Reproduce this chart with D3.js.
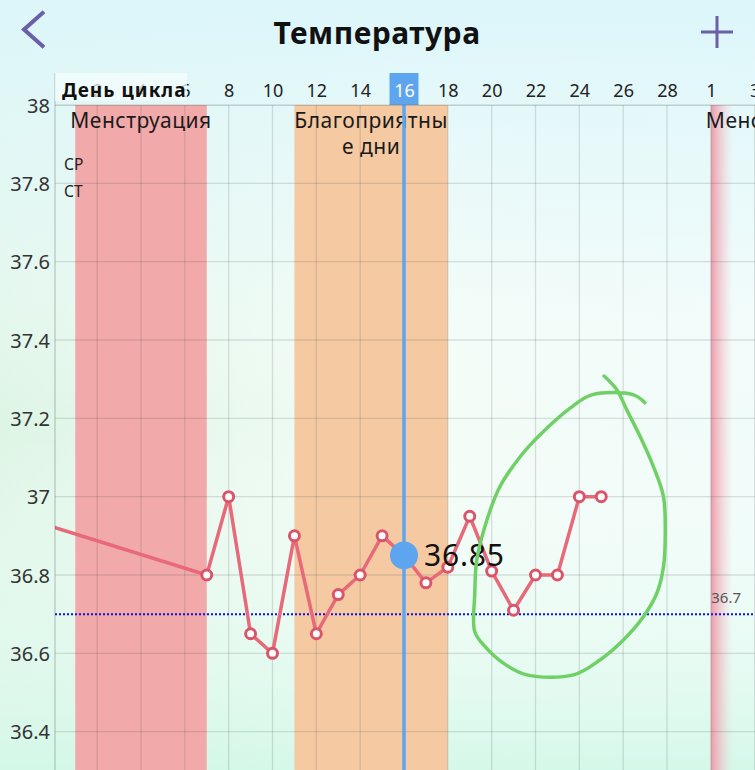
<!DOCTYPE html>
<html>
<head>
<meta charset="utf-8">
<script src="https://cdn.jsdelivr.net/npm/d3@7.9.0/dist/d3.min.js"></script>
<style>
  html, body { margin: 0; padding: 0; background: #eefbf6; }
  svg { display: block; font-family: "Noto Sans", Roboto, sans-serif; }
</style>
</head>
<body>
<svg id="chart" width="755" height="770"></svg>
<script>
// === Data ===
const cycleDays = [7, 8, 9, 10, 11, 12, 13, 14, 15, 16, 17, 18, 19, 20, 21, 22, 23, 24, 25];
const temps = [36.8, 37.0, 36.65, 36.6, 36.9, 36.65, 36.75, 36.8, 36.9, 36.85, 36.78, 36.82, 36.95, 36.81, 36.71, 36.8, 36.8, 37.0, 37.0];
const prevCycleDay = -1;      // last reading of the previous cycle (off-screen)
const prevCycleTemp = 36.94;

const tickDays = [2, 4, 6, 8, 10, 12, 14, 16, 18, 20, 22, 24, 26, 28, 30, 32];
const tickLabels = ['2', '4', '6', '8', '10', '12', '14', '16', '18', '20', '22', '24', '26', '28', '1', '3'];
const tempTicks = [36.2, 36.4, 36.6, 36.8, 37.0, 37.2, 37.4, 37.6, 37.8, 38.0];
const tempLabels = ['36.2', '36.4', '36.6', '36.8', '37', '37.2', '37.4', '37.6', '37.8', '38'];

const phaseNames = ['Менструация', 'Благоприятные дни', 'Менструация'];
const phaseStart = [1, 11, 30];
const phaseEnd = [7, 18, 36];

const selectedDay = 16;
const selectedTemp = 36.85;
const coverline = 36.7;

// hand-drawn green loop around the last readings, [day, temp]
const loopDays = [25.13, 25.71, 26.17, 26.78, 27.38, 27.84, 27.92, 27.84, 27.54, 26.93, 26.01, 24.94, 23.73, 21.6, 20.53, 19.7, 19.23, 19.23, 19.32, 19.78, 20.38, 21.3, 22.21, 23.58, 24.57, 26.47, 26.99];
const loopTemps = [37.308, 37.273, 37.221, 37.153, 37.077, 37.0, 36.907, 36.821, 36.754, 36.694, 36.634, 36.583, 36.545, 36.545, 36.575, 36.617, 36.655, 36.753, 36.838, 36.94, 37.026, 37.102, 37.158, 37.226, 37.26, 37.26, 37.24];

// === Layout ===
const W = 755, H = 770;
const plot = { left: 55, top: 105, right: 755, bottom: 770 };
const FONT = '"Noto Sans", Roboto, sans-serif';

const x = d3.scaleLinear().domain([16, 28]).range([404, 667]);
const y = d3.scaleLinear().domain([36.8, 38]).range([575, 105]);

const svg = d3.select('#chart');
const defs = svg.append('defs');

// background gradients
const bgH = defs.append('linearGradient').attr('id', 'bgH').attr('x1', 0).attr('x2', 1).attr('y1', 0).attr('y2', 0);
bgH.append('stop').attr('offset', '0%').attr('stop-color', '#ddf5e5');
bgH.append('stop').attr('offset', '55%').attr('stop-color', '#f3fcf6');
bgH.append('stop').attr('offset', '100%').attr('stop-color', '#f0fcfa');

const bgTop = defs.append('linearGradient').attr('id', 'bgTop').attr('x1', 0).attr('x2', 0).attr('y1', 0).attr('y2', 1);
bgTop.append('stop').attr('offset', '0%').attr('stop-color', '#dcf6fa').attr('stop-opacity', 1);
bgTop.append('stop').attr('offset', '30%').attr('stop-color', '#e8f9fa').attr('stop-opacity', 0.6);
bgTop.append('stop').attr('offset', '55%').attr('stop-color', '#ffffff').attr('stop-opacity', 0);
bgTop.append('stop').attr('offset', '100%').attr('stop-color', '#d3f8e8').attr('stop-opacity', 0.95);

const nextBand = defs.append('linearGradient').attr('id', 'nextBand')
  .attr('gradientUnits', 'userSpaceOnUse')
  .attr('x1', x(30)).attr('x2', x(30) + 22).attr('y1', 0).attr('y2', 0);
nextBand.append('stop').attr('offset', '0%').attr('stop-color', '#ec9aa8').attr('stop-opacity', 1);
nextBand.append('stop').attr('offset', '100%').attr('stop-color', '#f6c8d0').attr('stop-opacity', 0);

defs.append('clipPath').attr('id', 'plotClip')
  .append('rect')
  .attr('x', plot.left).attr('y', plot.top)
  .attr('width', plot.right - plot.left).attr('height', plot.bottom - plot.top);

svg.append('rect').attr('width', W).attr('height', H).attr('fill', 'url(#bgH)');
svg.append('rect').attr('width', W).attr('height', H).attr('fill', 'url(#bgTop)');

// === Header ===
svg.append('path')
  .attr('d', 'M42.5,13 L24,29.5 L42.5,46')
  .attr('fill', 'none').attr('stroke', '#6a5fa8').attr('stroke-width', 4).attr('stroke-linecap', 'square');
svg.append('path')
  .attr('d', 'M717,16 V48 M701,32 H733')
  .attr('fill', 'none').attr('stroke', '#6a5fa8').attr('stroke-width', 3);
svg.append('text')
  .attr('x', 377).attr('y', 43.5)
  .attr('text-anchor', 'middle')
  .attr('font-size', 30).attr('font-weight', 700).attr('fill', '#111')
  .attr('letter-spacing', 0.5)
  .text('Температура');

// === Plot ===
const g = svg.append('g').attr('clip-path', 'url(#plotClip)');

// phase bands
const bandFill = ['#f2a9aa', '#f5caa2', 'url(#nextBand)'];
phaseNames.forEach((name, i) => {
  g.append('rect')
    .attr('x', x(phaseStart[i])).attr('y', plot.top)
    .attr('width', x(phaseEnd[i]) - x(phaseStart[i]))
    .attr('height', plot.bottom - plot.top)
    .attr('fill', bandFill[i]);
});

// grid
g.selectAll('.vgrid').data(tickDays).join('line')
  .attr('x1', d => x(d)).attr('x2', d => x(d))
  .attr('y1', plot.top).attr('y2', plot.bottom)
  .attr('stroke', 'rgba(60,70,70,0.16)').attr('stroke-width', 1.3);
g.selectAll('.hgrid').data(tempTicks).join('line')
  .attr('x1', plot.left).attr('x2', plot.right)
  .attr('y1', d => y(d)).attr('y2', d => y(d))
  .attr('stroke', 'rgba(60,70,70,0.16)').attr('stroke-width', 1.3);

// phase labels
const phaseLines = [['Менструация'], ['Благоприятны', 'е дни'], ['Менструация']];
phaseNames.forEach((name, i) => {
  const cx = (x(phaseStart[i]) + x(phaseEnd[i])) / 2;
  phaseLines[i].forEach((line, j) => {
    g.append('text')
      .attr('x', cx).attr('y', 127.5 + j * 26)
      .attr('text-anchor', 'middle')
      .attr('font-size', 21).attr('letter-spacing', 0.5).attr('fill', '#1a1a1a')
      .text(line);
  });
});

// coverline
g.append('line')
  .attr('x1', plot.left).attr('x2', plot.right)
  .attr('y1', y(coverline)).attr('y2', y(coverline))
  .attr('stroke', '#1010e0').attr('stroke-width', 2).attr('stroke-dasharray', '2,2');
g.append('text')
  .attr('x', 741).attr('y', y(coverline) - 11)
  .attr('text-anchor', 'end')
  .attr('font-size', 15).attr('fill', '#555')
  .text(d3.format('.1f')(coverline));

// selected day line
g.append('line')
  .attr('x1', x(selectedDay)).attr('x2', x(selectedDay))
  .attr('y1', plot.top).attr('y2', plot.bottom)
  .attr('stroke', '#5ea5f0').attr('stroke-width', 3.5);

// temperature line
const points = [[prevCycleDay, prevCycleTemp]].concat(cycleDays.map((d, i) => [d, temps[i]]));
const line = d3.line().x(d => x(d[0])).y(d => y(d[1]));
g.append('path')
  .datum(points)
  .attr('d', line)
  .attr('fill', 'none').attr('stroke', '#e8697a').attr('stroke-width', 3.5)
  .attr('stroke-linejoin', 'round');

g.selectAll('.pt').data(points.filter(p => p[0] !== selectedDay)).join('circle')
  .attr('cx', d => x(d[0])).attr('cy', d => y(d[1]))
  .attr('r', 5)
  .attr('fill', '#fff').attr('stroke', '#d9566a').attr('stroke-width', 3);

// selected point
g.append('circle')
  .attr('cx', x(selectedDay)).attr('cy', y(selectedTemp))
  .attr('r', 14).attr('fill', '#5ea5f0');
g.append('text')
  .attr('x', x(selectedDay) + 20).attr('y', y(selectedTemp) + 11)
  .attr('font-size', 30).attr('letter-spacing', 0.8).attr('fill', '#111')
  .text(d3.format('.2f')(selectedTemp));

// hand-drawn loop
const loopLine = d3.line().x(d => x(d[0])).y(d => y(d[1])).curve(d3.curveCatmullRom);
g.append('path')
  .datum(loopDays.map((d, i) => [d, loopTemps[i]]))
  .attr('d', loopLine)
  .attr('fill', 'none').attr('stroke', '#6fd066').attr('stroke-width', 3.5)
  .attr('stroke-linecap', 'round').attr('stroke-linejoin', 'round');

// days of week marks
svg.append('text').attr('x', 64).attr('y', 170).attr('font-size', 15.5).attr('fill', '#222').text('СР');
svg.append('text').attr('x', 64).attr('y', 197).attr('font-size', 15.5).attr('fill', '#222').text('СТ');

// === Axes ===
svg.append('line')
  .attr('x1', plot.left).attr('x2', plot.left).attr('y1', 73).attr('y2', plot.bottom)
  .attr('stroke', 'rgba(60,70,70,0.35)').attr('stroke-width', 1);

const yAxis = d3.axisLeft(y).tickValues(tempTicks).tickSize(0).tickPadding(0)
  .tickFormat((d, i) => tempLabels[i]);
svg.append('g')
  .attr('transform', 'translate(50,0)')
  .call(yAxis)
  .call(a => a.select('.domain').remove())
  .selectAll('text')
  .attr('font-size', 20).attr('fill', '#333').attr('font-family', FONT)
  .attr('dy', '0.35em');

const xAxis = d3.axisTop(x).tickValues(tickDays).tickSize(0).tickPadding(0)
  .tickFormat((d, i) => tickLabels[i]);
const xg = svg.append('g').attr('transform', 'translate(0,97)');
// highlight box under the selected day
xg.append('rect')
  .attr('x', x(selectedDay) - 14.5).attr('y', 73 - 97)
  .attr('width', 29).attr('height', 32)
  .attr('fill', '#5ea5f0');
xg.call(xAxis)
  .call(a => a.select('.domain').remove())
  .selectAll('text')
  .attr('font-size', 18).attr('font-family', FONT)
  .attr('fill', d => d === selectedDay ? '#fff' : '#222');

// axis label box
svg.append('rect')
  .attr('x', plot.left).attr('y', 73).attr('width', 132).attr('height', 28)
  .attr('fill', '#f4fdfd').attr('opacity', 0.75);
svg.append('text')
  .attr('x', 62).attr('y', 97)
  .attr('font-size', 19).attr('font-weight', 700).attr('letter-spacing', 1).attr('fill', '#111')
  .text('День цикла');

svg.append('line')
  .attr('x1', plot.left).attr('x2', plot.right).attr('y1', plot.top).attr('y2', plot.top)
  .attr('stroke', 'rgba(60,70,70,0.16)').attr('stroke-width', 1.3);
</script>
</body>
</html>
